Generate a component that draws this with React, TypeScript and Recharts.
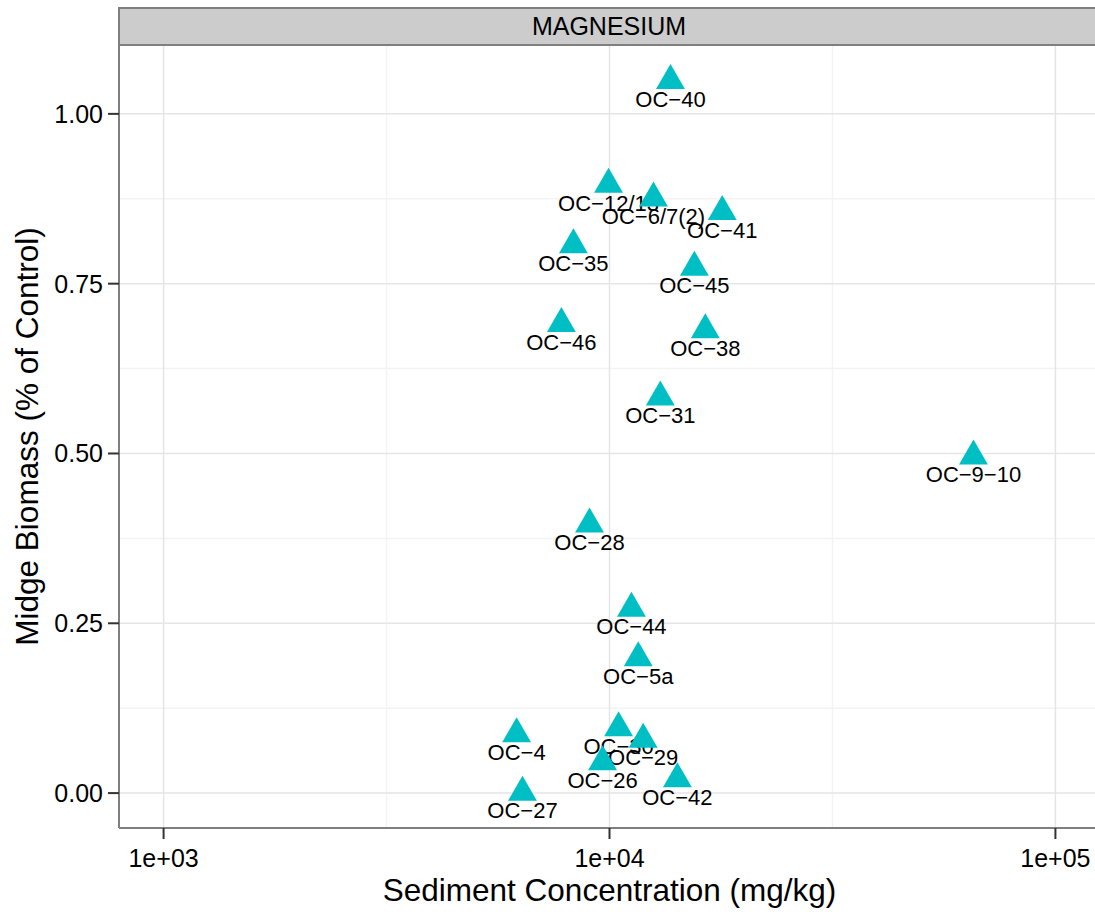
import React from 'react';
import { ScatterChart, Scatter, XAxis, YAxis, CartesianGrid, Label } from 'recharts';

const SITES = [
  'OC−40', 'OC−12/13', 'OC−6/7(2)', 'OC−41', 'OC−35', 'OC−45', 'OC−46', 'OC−38', 'OC−31', 'OC−9−10',
  'OC−28', 'OC−44', 'OC−5a', 'OC−4', 'OC−30', 'OC−29', 'OC−26', 'OC−42', 'OC−27',
];
// sediment magnesium, mg/kg
const CONC = [
  13700, 9950, 12550, 17900, 8300, 15500, 7800, 16400, 13000, 65500,
  9020, 11200, 11600, 6190, 10480, 11900, 9650, 14200, 6380,
];
// midge biomass, fraction of control
const BIOMASS = [
  1.049, 0.896, 0.876, 0.856, 0.807, 0.774, 0.691, 0.682, 0.583, 0.496,
  0.396, 0.272, 0.199, 0.087, 0.096, 0.079, 0.046, 0.021, 0.001,
];

const X_TICKS = [1000, 10000, 100000];
const X_MINOR = [Math.pow(10, 3.5), Math.pow(10, 4.5)];
const Y_TICKS = [0, 0.25, 0.5, 0.75, 1];
const Y_MINOR = [0.125, 0.375, 0.625, 0.875];

const FONT = '"Liberation Sans", Arial, Helvetica, sans-serif';
const TEAL = '#00BFC4';

const data = SITES.map((site, i) => ({ site, conc: CONC[i], biomass: BIOMASS[i] }));

// ggplot style 5% expansion (x in log space, limits 1e3..1e5)
const xLo = Math.log10(X_TICKS[0]);
const xHi = Math.log10(X_TICKS[X_TICKS.length - 1]);
const xPad = (xHi - xLo) * 0.05;
const xDomain = [Math.pow(10, xLo - xPad), Math.pow(10, xHi + xPad)];
const yMin = Math.min(...BIOMASS);
const yMax = Math.max(...BIOMASS);
const yPad = (yMax - yMin) * 0.05;
const yDomain = [yMin - yPad, yMax + yPad];

const fmtSci = (v: number) => {
  const e = Math.round(Math.log10(v));
  return `1e+${String(e).padStart(2, '0')}`;
};

const TRI_H = 25;

const Triangle = (props: any) => {
  const { cx, cy } = props;
  if (cx == null || cy == null) return null;
  const up = (TRI_H * 2) / 3;
  const down = TRI_H / 3;
  const half = TRI_H / Math.sqrt(3);
  return (
    <polygon
      points={`${cx},${cy - up} ${cx - half},${cy + down} ${cx + half},${cy + down}`}
      fill={TEAL}
    />
  );
};

const SiteLabel = (props: any) => {
  const { cx, cy, payload } = props;
  if (cx == null || cy == null) return null;
  return (
    <text x={cx} y={cy + 26} textAnchor="middle" fontSize={22} fontFamily={FONT} fill="#000">
      {payload.site}
    </text>
  );
};

export default function App() {
  return (
    <div
      style={{
        position: 'absolute',
        left: 0,
        top: 0,
        width: 1095,
        height: 915,
        overflow: 'hidden',
        background: '#fff',
        fontFamily: FONT,
      }}
    >
      <div
        style={{
          position: 'absolute',
          left: 118,
          top: 7,
          width: 982,
          height: 39,
          boxSizing: 'border-box',
          border: '2px solid #7F7F7F',
          background: '#CCCCCC',
          display: 'flex',
          alignItems: 'center',
          justifyContent: 'center',
          fontSize: 25,
          color: '#000',
          zIndex: 2,
        }}
      >
        MAGNESIUM
      </div>
      <ScatterChart width={1100} height={915} margin={{ top: 45, right: 0, bottom: 0, left: 0 }}>
        <CartesianGrid
          horizontalValues={Y_MINOR}
          verticalValues={X_MINOR}
          stroke="#F3F3F3"
          strokeWidth={1.5}
        />
        <CartesianGrid
          horizontalValues={Y_TICKS}
          verticalValues={X_TICKS}
          stroke="#E5E5E5"
          strokeWidth={1.5}
        />
        <XAxis
          type="number"
          dataKey="conc"
          scale="log"
          domain={xDomain}
          allowDataOverflow
          ticks={X_TICKS}
          tickFormatter={fmtSci}
          height={87}
          tickSize={11}
          tickMargin={10}
          axisLine={{ stroke: '#7F7F7F', strokeWidth: 2 }}
          tickLine={{ stroke: '#333333', strokeWidth: 2 }}
          tick={{ fontSize: 25, fill: '#000', fontFamily: FONT }}
        >
          <Label
            content={({ viewBox }: any) => (
              <text
                x={viewBox.x + viewBox.width / 2}
                y={viewBox.y + 73}
                textAnchor="middle"
                fontSize={31.5}
                fontFamily={FONT}
                fill="#000"
              >
                Sediment Concentration (mg/kg)
              </text>
            )}
          />
        </XAxis>
        <YAxis
          type="number"
          dataKey="biomass"
          domain={yDomain}
          allowDataOverflow
          ticks={Y_TICKS}
          tickFormatter={(v: number) => v.toFixed(2)}
          width={119}
          tickSize={11}
          tickMargin={5}
          axisLine={{ stroke: '#7F7F7F', strokeWidth: 2 }}
          tickLine={{ stroke: '#333333', strokeWidth: 2 }}
          tick={{ fontSize: 25, fill: '#000', fontFamily: FONT }}
        >
          <Label
            content={({ viewBox }: any) => {
              const bx = viewBox.x + 38;
              const cy = viewBox.y + viewBox.height / 2;
              return (
                <text
                  x={bx}
                  y={cy}
                  transform={`rotate(-90 ${bx} ${cy})`}
                  textAnchor="middle"
                  fontSize={31.5}
                  fontFamily={FONT}
                  fill="#000"
                >
                  Midge Biomass (% of Control)
                </text>
              );
            }}
          />
        </YAxis>
        <Scatter data={data} shape={SiteLabel} isAnimationActive={false} />
        <Scatter data={data} shape={Triangle} isAnimationActive={false} />
      </ScatterChart>
    </div>
  );
}
